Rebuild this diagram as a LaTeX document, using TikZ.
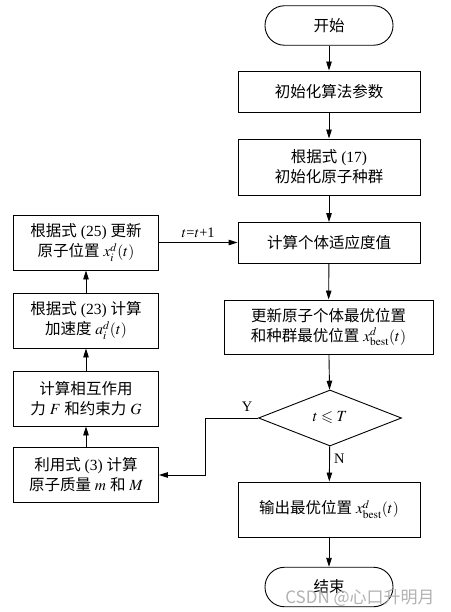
\documentclass[tikz,border=0pt]{standalone}
\usepackage{mathptmx}
\usepackage{amssymb}
\usepackage{fontspec}
\setmainfont{Liberation Serif}
\newfontfamily\cjk{Noto Sans CJK SC}
\newcommand\zh[1]{{\cjk #1}}
\usetikzlibrary{shapes.geometric,arrows.meta}
\begin{document}
\begin{tikzpicture}[x=1pt,y=-1pt,
  every node/.style={font=\fontsize{15.5}{20}\selectfont, align=center, inner sep=0pt},
  box/.style={draw, line width=0.9pt, minimum width=182pt},
  lbox/.style={draw, line width=0.9pt, minimum width=145pt, minimum height=55pt},
  term/.style={draw, line width=0.9pt, rounded corners=19.5pt, minimum width=128pt, minimum height=39.5pt},
  dec/.style={draw, line width=0.9pt, diamond, aspect=2.55, minimum width=143pt, minimum height=56pt},
  conn/.style={line width=0.9pt, -{Triangle[length=9pt,width=5.5pt]}},
  lab/.style={font=\fontsize{14.5}{16}\selectfont}
]
\useasboundingbox (0,0) rectangle (450,612);
\fill[white] (0,0) rectangle (450,612);

\node[term] (start) at (329,25.5) {\zh{开始}};
\node[box, minimum height=41pt] (init) at (329,91.5) {\zh{初始化算法参数}};
\node[box, minimum height=56pt] (pop) at (329,167) {\zh{根据式} (17)\\\zh{初始化原子种群}};
\node[box, minimum height=41pt] (fit) at (329,243) {\zh{计算个体适应度值}};
\node[box, minimum width=209pt, minimum height=54pt] (upd) at (328.5,327) {\zh{更新原子个体最优位置}\\\zh{和种群最优位置} $x^d_{\mathrm{best}}(t)$};
\node[dec] (cond) at (330,418) {$t\leqslant T$};
\node[box, minimum height=55pt] (out) at (329,509.5) {\zh{输出最优位置} $x^d_{\mathrm{best}}(t)$};
\node[term] (stop) at (329,587) {\zh{结束}};

\node[lbox] (l1) at (86,242.5) {\zh{根据式} (25) \zh{更新}\\\zh{原子位置} $x^d_i(t)$};
\node[lbox] (l2) at (86,320.5) {\zh{根据式} (23) \zh{计算}\\\zh{加速度} $a^d_i(t)$};
\node[lbox] (l3) at (86,398.5) {\zh{计算相互作用}\\\zh{力} $F$ \zh{和约束力} $G$};
\node[lbox] (l4) at (86,475) {\zh{利用式} (3) \zh{计算}\\\zh{原子质量} $m$ \zh{和} $M$};

\coordinate (yc) at (205,418);

\draw[conn] (start) -- (init);
\draw[conn] (init) -- (pop);
\draw[conn] (pop) -- (fit);
\draw[conn] (fit) -- (upd);
\draw[conn] (upd) -- (cond);
\draw[conn] (cond) -- node[lab, right=4pt, pos=0.35] (nlab) {N} (out);
\draw[conn] (out) -- (stop);
\draw[conn] (cond.west) -- (yc) |- (l4.east);
\node[lab] (ylab) at (247,407) {Y};
\draw[conn] (l4) -- (l3);
\draw[conn] (l3) -- (l2);
\draw[conn] (l2) -- (l1);
\draw[conn] (l1.east) -- node[lab, above=4pt] (tlab) {$t$=$t$+1} (l1.east -| fit.west);

\node[text=gray!60, font=\fontsize{17}{20}\cjk] (wm) at (360,598) {CSDN @心口升明月};
\end{tikzpicture}
\end{document}
